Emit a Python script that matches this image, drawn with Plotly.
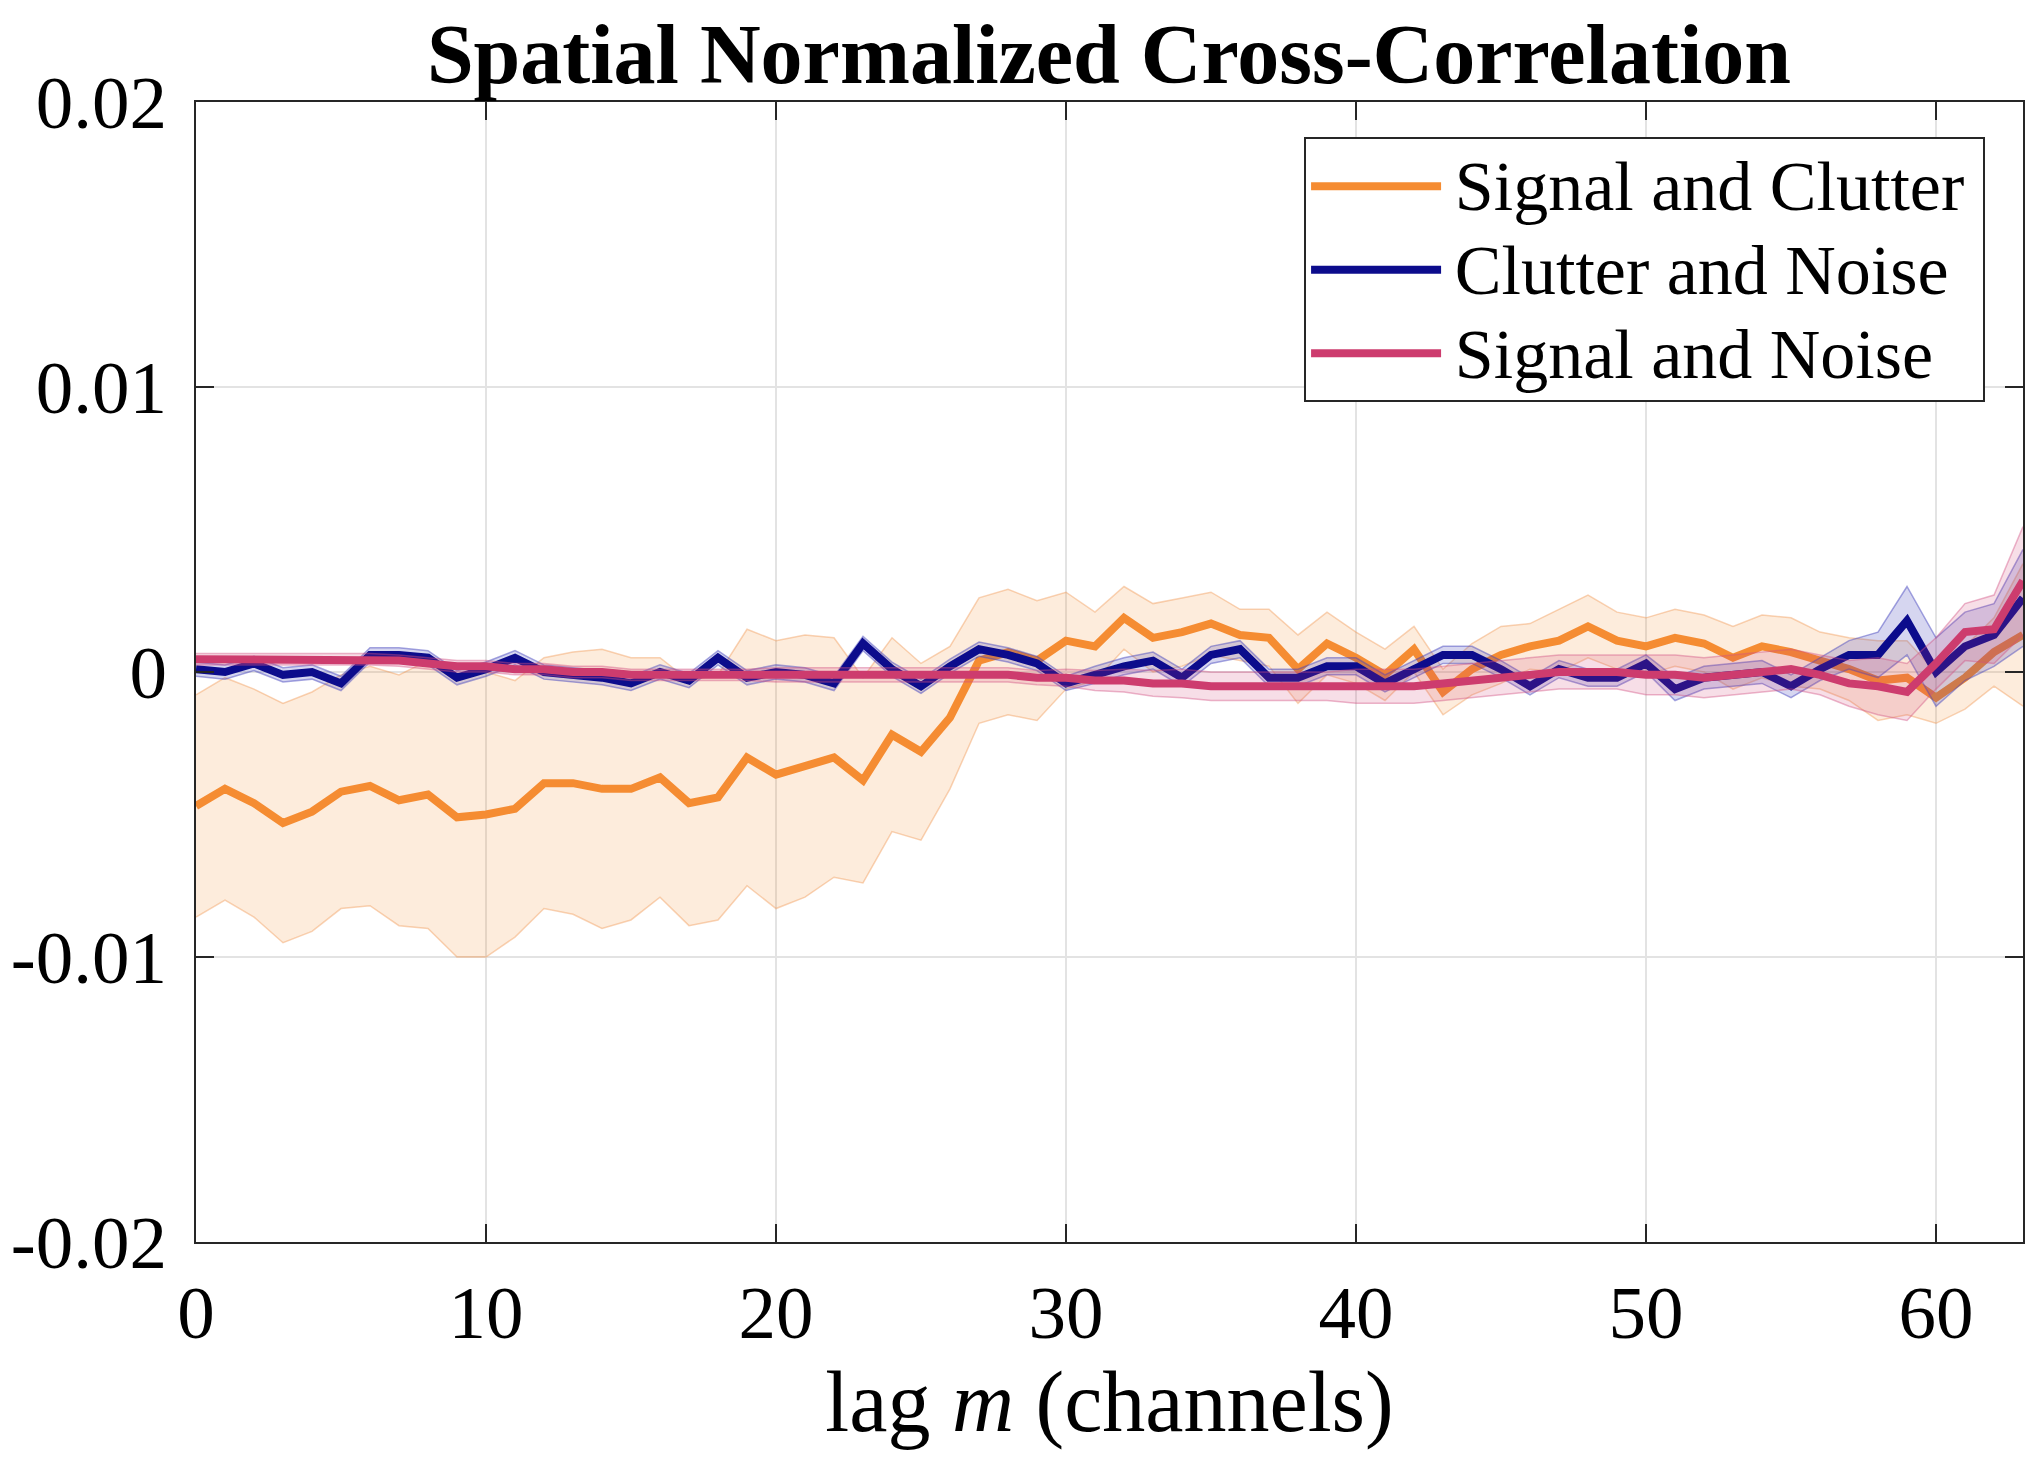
import numpy as np
import plotly.graph_objects as go

lags = list(range(64))

sc_mean = [-0.0047, -0.0041, -0.0046, -0.0053, -0.0049, -0.0042, -0.0040, -0.0045,
           -0.0043, -0.0051, -0.0050, -0.0048, -0.0039, -0.0039, -0.0041, -0.0041,
           -0.0037, -0.0046, -0.0044, -0.0030, -0.0036, -0.0033, -0.0030, -0.0038,
           -0.0022, -0.0028, -0.0016, 0.0004, 0.0007, 0.0004, 0.0011, 0.0009,
           0.0019, 0.0012, 0.0014, 0.0017, 0.0013, 0.0012, 0.0001, 0.0010,
           0.0005, -0.0001, 0.0008, -0.0007, 0.0001, 0.0006, 0.0009, 0.0011,
           0.0016, 0.0011, 0.0009, 0.0012, 0.0010, 0.0005, 0.0009, 0.0007,
           0.0004, 0.0001, -0.0003, -0.0002, -0.0009, -0.0002, 0.0007, 0.0013]
sc_std = [0.0039, 0.0039, 0.0040, 0.0042, 0.0042, 0.0041, 0.0042, 0.0044,
          0.0047, 0.0049, 0.0050, 0.0045, 0.0044, 0.0046, 0.0049, 0.0046,
          0.0042, 0.0043, 0.0043, 0.0045, 0.0047, 0.0046, 0.0042, 0.0036,
          0.0034, 0.0031, 0.0025, 0.0022, 0.0022, 0.0021, 0.0017, 0.0012,
          0.0011, 0.0012, 0.0012, 0.0011, 0.0009, 0.0010, 0.0012, 0.0011,
          0.0009, 0.0009, 0.0008, 0.0008, 0.0009, 0.0010, 0.0008, 0.0011,
          0.0011, 0.0010, 0.0010, 0.0010, 0.0010, 0.0011, 0.0011, 0.0012,
          0.0010, 0.0011, 0.0014, 0.0013, 0.0009, 0.0011, 0.0012, 0.0025]

cn_mean = [0.0001, 0.0000, 0.0003, -0.0001, 0.0000, -0.0004, 0.0006, 0.0006,
           0.0005, -0.0002, 0.0001, 0.0005, 0.0000, -0.0001, -0.0002, -0.0004,
           0.0000, -0.0003, 0.0005, -0.0002, 0.0000, -0.0001, -0.0004, 0.0010,
           0.0001, -0.0005, 0.0002, 0.0008, 0.0006, 0.0003, -0.0004, -0.0001,
           0.0002, 0.0004, -0.0002, 0.0006, 0.0008, -0.0002, -0.0002, 0.0002,
           0.0002, -0.0004, 0.0001, 0.0006, 0.0006, 0.0001, -0.0005, 0.0001,
           -0.0002, -0.0002, 0.0003, -0.0006, -0.0002, -0.0001, 0.0000, -0.0005,
           0.0001, 0.0006, 0.0006, 0.0018, 0.0000, 0.0009, 0.0013, 0.0026]
cn_std = [0.00025] * 31 + [0.0003] * 20 + [0.0004] * 6 + \
         [0.0005, 0.0008, 0.0012, 0.0012, 0.0012, 0.0011, 0.0017]

sn_mean = [0.00045, 0.00045, 0.00045, 0.00045, 0.00045, 0.00045, 0.00045, 0.0004,
           0.0003, 0.0002, 0.0002, 0.0001, 0.0001, 0.0000, 0.0000, -0.0001,
           -0.0001, -0.0001, -0.0001, -0.0001, -0.0001, -0.0001, -0.0001, -0.0001,
           -0.0001, -0.0001, -0.0001, -0.0001, -0.0001, -0.0002, -0.0002, -0.0003,
           -0.0003, -0.0004, -0.0004, -0.0005, -0.0005, -0.0005, -0.0005, -0.0005,
           -0.0005, -0.0005, -0.0005, -0.0004, -0.0003, -0.0002, -0.0001, 0.0000,
           0.0000, 0.0000, -0.0001, -0.0001, -0.0002, -0.0001, 0.0000, 0.0001,
           -0.0001, -0.0004, -0.0005, -0.0007, 0.0003, 0.0014, 0.0015, 0.0032]
sn_std = [0.0002] * 20 + [0.00025] * 10 + [0.0003, 0.00035, 0.0004, 0.00045] + \
         [0.0005] * 6 + [0.0006] * 10 + [0.0007] * 7 + \
         [0.0008, 0.0010, 0.0010, 0.0009, 0.0010, 0.0012, 0.0019]

series_names = ["Signal and Clutter", "Clutter and Noise", "Signal and Noise"]
x_ticks = [0, 10, 20, 30, 40, 50, 60]
y_ticks = [-0.02, -0.01, 0, 0.01, 0.02]
y_ticklabels = ["-0.02", "-0.01", "0", "0.01", "0.02"]

series = [
    (series_names[0], sc_mean, sc_std, "rgb(245,140,50)",
     "rgba(245,140,50,0.17)", "rgba(240,150,80,0.42)"),
    (series_names[1], cn_mean, cn_std, "rgb(12,12,140)",
     "rgba(50,50,180,0.20)", "rgba(70,70,190,0.48)"),
    (series_names[2], sn_mean, sn_std, "rgb(205,60,110)",
     "rgba(205,60,110,0.17)", "rgba(210,80,130,0.42)"),
]

FONT = "Liberation Serif, Times New Roman, serif"

# the page body has an 8px default margin, so the figure is sized to fit
W, H = 2032, 1462


def legend_label(name):
    return ('<span style="font-size:35px">&nbsp;</span>'
            '<span style="font-size:70px">' + name + '</span>'
            '<span style="font-size:55px">&nbsp;</span>')


fig = go.Figure()
for name, mean, std, col, fillc, edgec in series:
    m = np.array(mean)
    s = np.array(std)
    fig.add_trace(go.Scatter(x=lags, y=m + s, mode="lines",
                             line=dict(color=edgec, width=1.5),
                             showlegend=False, hoverinfo="skip"))
    fig.add_trace(go.Scatter(x=lags, y=m - s, mode="lines",
                             line=dict(color=edgec, width=1.5),
                             fill="tonexty", fillcolor=fillc,
                             showlegend=False, hoverinfo="skip"))
    fig.add_trace(go.Scatter(x=lags, y=m, mode="lines",
                             name=legend_label(name),
                             line=dict(color=col, width=8)))

axis_common = dict(
    showline=True, linecolor="#262626", linewidth=2, mirror="ticks",
    ticks="inside", ticklen=18, tickwidth=2, tickcolor="#262626",
    showgrid=True, gridcolor="#e3e3e3", gridwidth=1.5, zeroline=False,
    automargin=False,
    tickfont=dict(family=FONT, size=75, color="black"),
)

fig.update_layout(
    width=W, height=H,
    margin=dict(l=188, r=17, t=94, b=228),
    paper_bgcolor="white", plot_bgcolor="white",
    title=dict(text="Spatial Normalized Cross-Correlation",
               font=dict(family=FONT, size=84, color="black", weight="bold"),
               x=0.5418, xanchor="center", y=1 - 46 / H, yanchor="middle",
               xref="container", yref="container"),
    xaxis=dict(range=[0, 63], tickvals=x_ticks,
               ticktext=[str(v) for v in x_ticks],
               ticklabelstandoff=4,
               title=dict(text="lag <i>m</i> (channels)",
                          font=dict(family=FONT, size=86, color="black"),
                          standoff=4),
               **axis_common),
    yaxis=dict(range=[-0.02, 0.02], tickvals=y_ticks, ticktext=y_ticklabels,
               ticklabelstandoff=12, **axis_common),
    legend=dict(x=0.6065, y=0.969, xanchor="left", yanchor="top",
                bgcolor="white", bordercolor="#262626", borderwidth=2,
                font=dict(family=FONT, size=62, color="black"),
                itemwidth=130, tracegroupgap=0, traceorder="normal"),
    showlegend=True,
)

fig.write_html("out.html")
